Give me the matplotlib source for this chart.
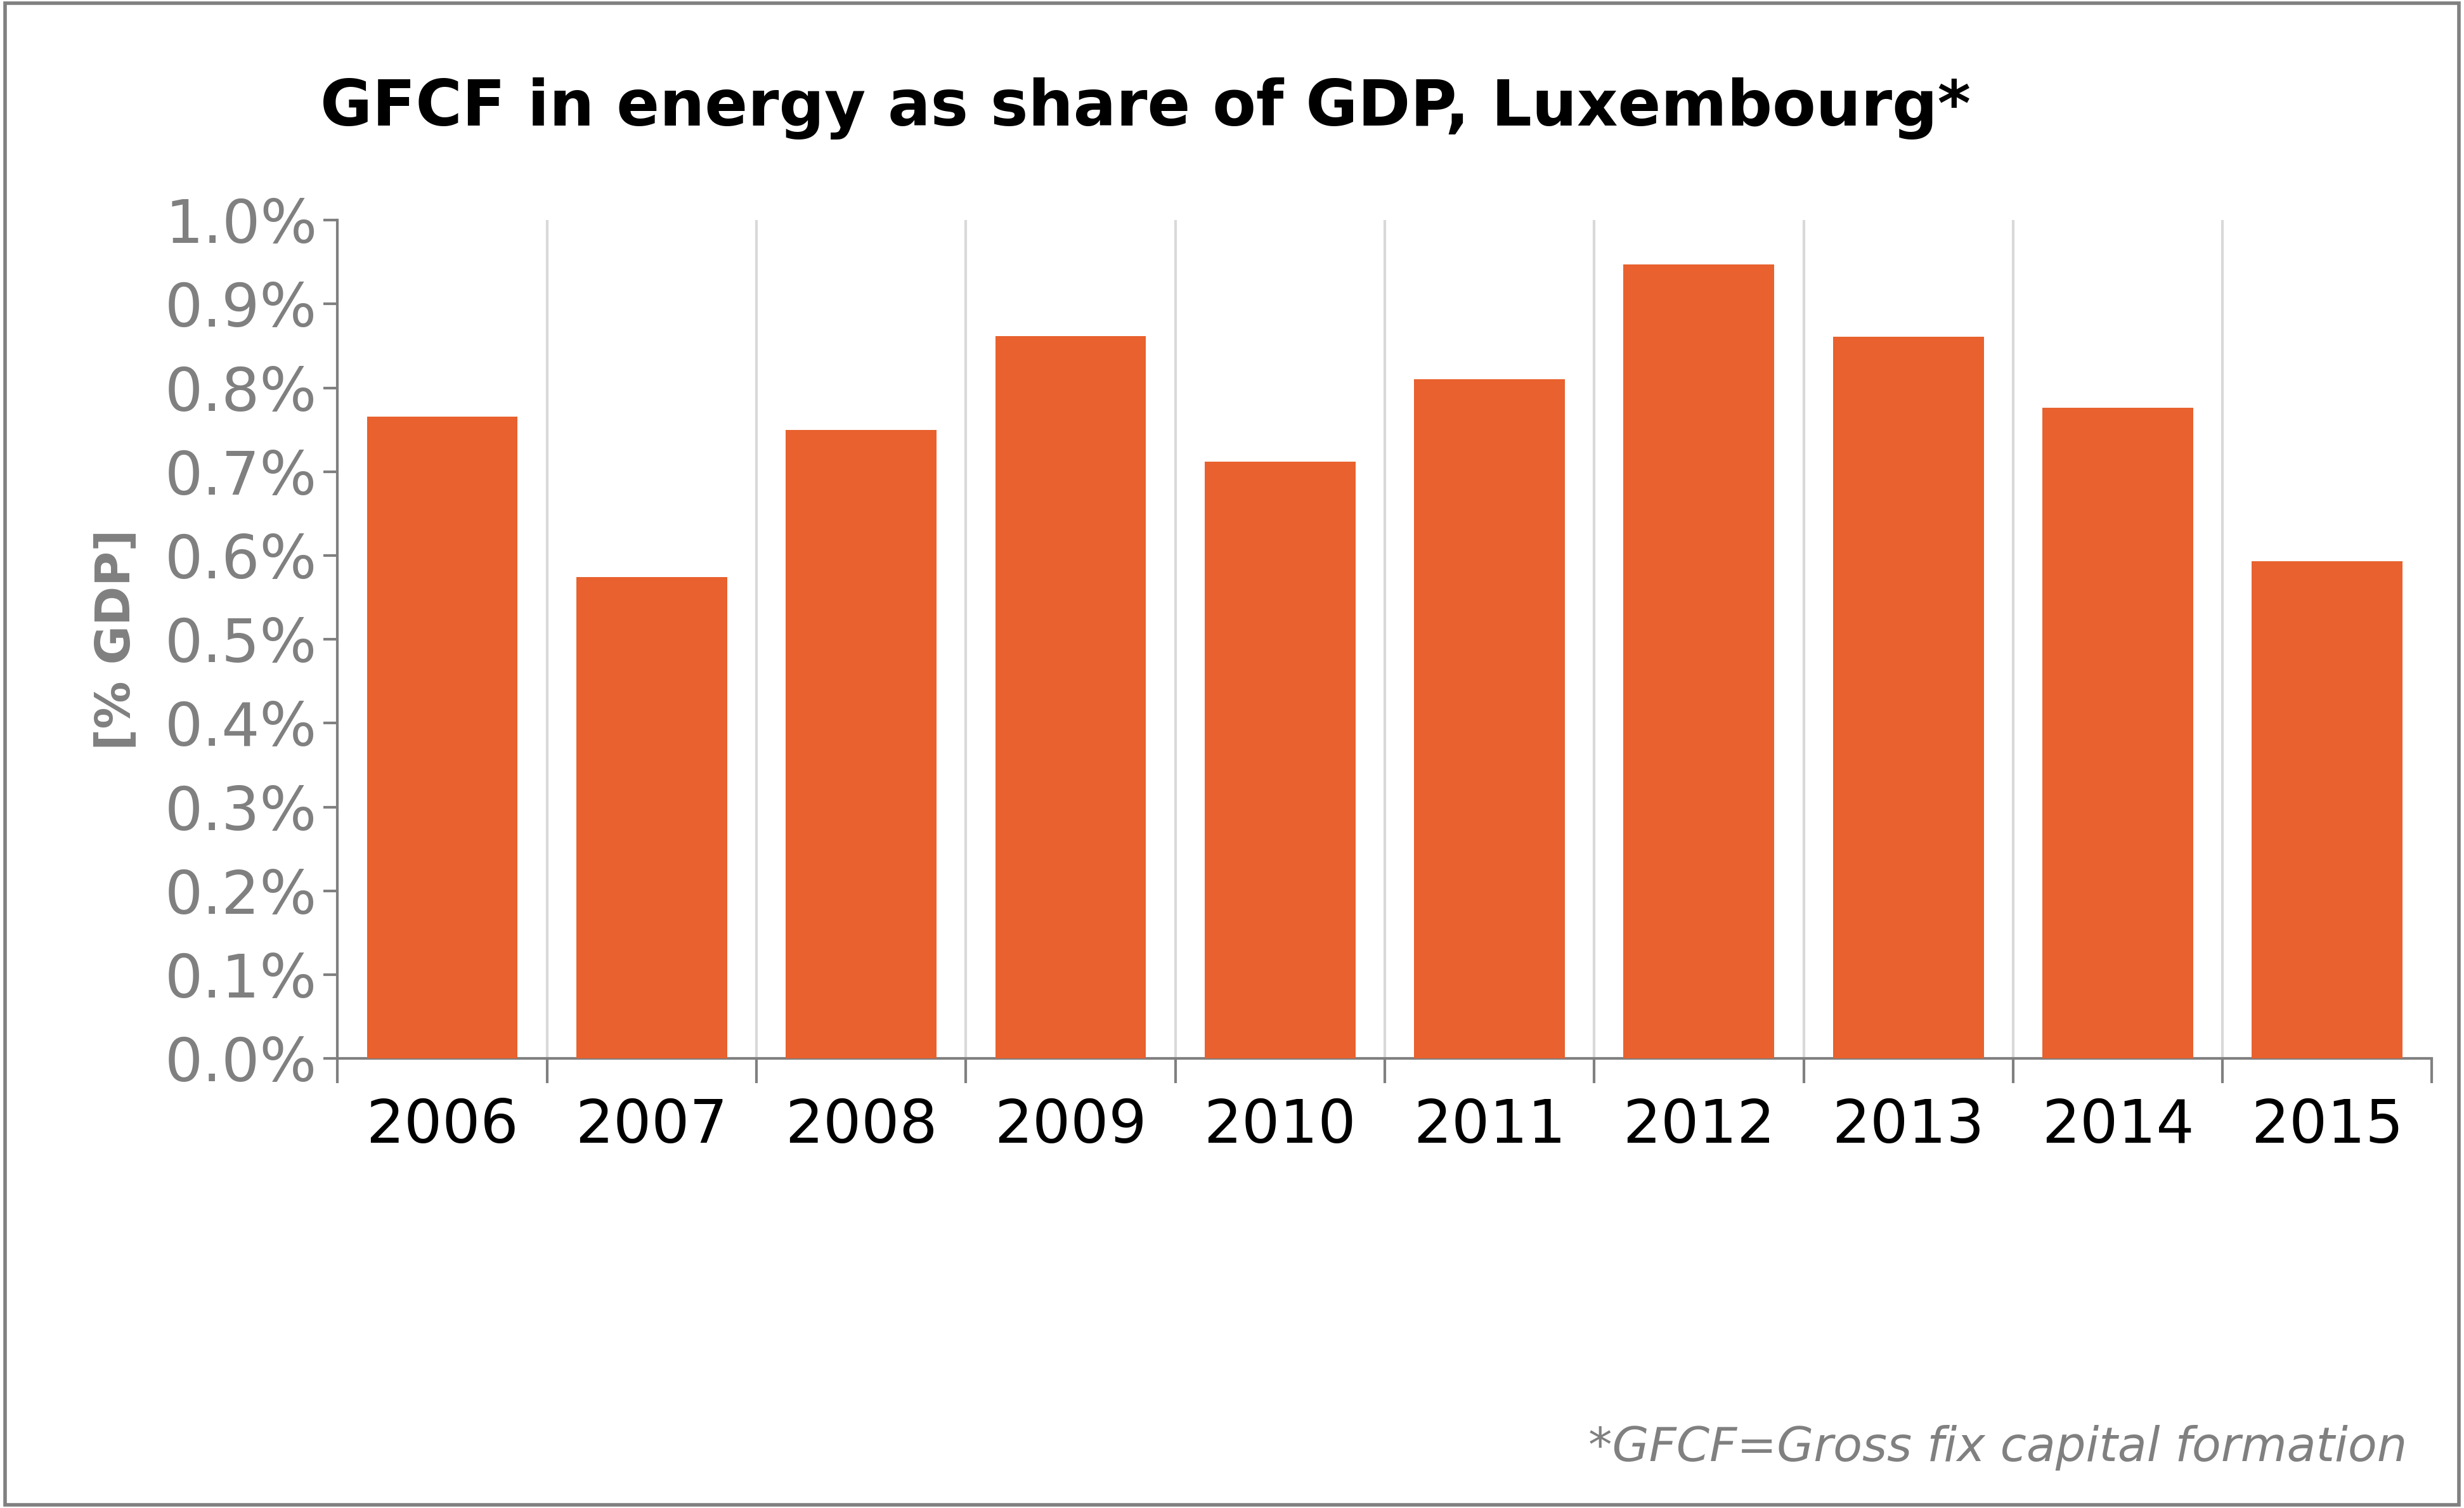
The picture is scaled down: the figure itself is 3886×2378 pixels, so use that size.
import matplotlib.pyplot as plt
import matplotlib.patches as mpatches
from matplotlib.ticker import FuncFormatter

years = ['2006', '2007', '2008', '2009', '2010', '2011', '2012', '2013', '2014', '2015']
share = [0.766, 0.574, 0.750, 0.862, 0.712, 0.810, 0.947, 0.861, 0.776, 0.593]

fig = plt.figure(figsize=(19.43, 11.89), dpi=200)
fig.patches.append(mpatches.Rectangle((0.002, 0.002), 0.996, 0.996, transform=fig.transFigure,
                                      fill=False, edgecolor='#808080', linewidth=2))
ax = fig.add_axes([0.137, 0.298, 0.850, 0.556])

x = range(len(years))
ax.bar(x, share, width=0.72, color='#E8612E', zorder=3)
ax.set_xlim(-0.5, len(years) - 0.5)
ax.set_ylim(0, 1.0)
ax.set_yticks([i / 10 for i in range(11)])
ax.yaxis.set_major_formatter(FuncFormatter(lambda v, p: f'{v:.1f}%'))
ax.tick_params(axis='y', labelsize=34, labelcolor='#808080', color='#808080', length=8, width=1.5)

bounds = [i - 0.5 for i in range(len(years) + 1)]
ax.set_xticks(bounds)
ax.set_xticklabels([])
ax.set_xticks(list(x), minor=True)
ax.set_xticklabels(years, minor=True, fontsize=34)
ax.tick_params(axis='x', which='major', length=14, width=1.5, color='#808080')
ax.tick_params(axis='x', which='minor', length=0, pad=22)
for b in bounds[1:-1]:
    ax.axvline(b, color='#D9D9D9', linewidth=1.5, zorder=1)

for s in ['top', 'right']:
    ax.spines[s].set_visible(False)
ax.spines['left'].set_color('#808080')
ax.spines['bottom'].set_color('#808080')
ax.spines['left'].set_linewidth(1.5)
ax.spines['bottom'].set_linewidth(1.5)

ax.set_ylabel('[% GDP]', fontsize=27, fontweight='bold', color='#808080', labelpad=14)
fig.text(0.13, 0.928, 'GFCF in energy as share of GDP, Luxembourg*', fontsize=36,
         fontweight='bold', va='center')
fig.text(0.977, 0.04, '*GFCF=Gross fix capital formation', fontsize=27, style='italic',
         color='#808080', ha='right', va='center')

fig.savefig('out.png')
